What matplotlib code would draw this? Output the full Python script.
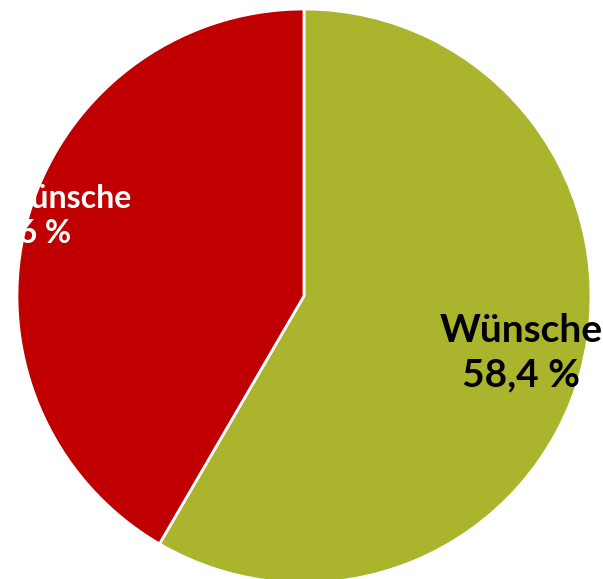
import matplotlib.pyplot as plt
from matplotlib.transforms import Bbox, TransformedBbox

label_names = ['Wünsche', 'Keine Wünsche']
label_values = ['58,4 %', '41,6 %']
shares = [58.4, 41.6]
colors = ['#aab42d', '#c00000']
explode = [0.0, 0.02]

plt.rcParams['font.family'] = ['Lato', 'DejaVu Sans']

fig = plt.figure(figsize=(6.03, 5.79), dpi=100, facecolor='white')
ax = fig.add_axes([0, 0, 1, 1])

ax.pie(shares, colors=colors, explode=explode, startangle=90,
       counterclock=False, center=(304, 283), radius=287,
       wedgeprops=dict(edgecolor='white', linewidth=2),
       frame=True)
ax.set_xlim(0, 603)
ax.set_ylim(0, 579)
ax.set_aspect('equal')
ax.axis('off')

# green slice label (centred)
ax.text(521, 249, label_names[0], ha='center', va='center', fontsize=28,
        fontweight='bold', color='black')
ax.text(521, 204, label_values[0], ha='center', va='center', fontsize=28,
        fontweight='bold', color='black')

# red slice label, cut off at the left like the original
t1 = ax.text(131, 381, label_names[1], ha='right', va='center', fontsize=23,
             fontweight='bold', color='white')
t1.set_clip_box(TransformedBbox(Bbox([[27, 0], [603, 579]]), ax.transData))
t1.set_clip_on(True)
t2 = ax.text(71, 346, label_values[1], ha='right', va='center', fontsize=23,
             fontweight='bold', color='white')
t2.set_clip_box(TransformedBbox(Bbox([[20, 0], [603, 579]]), ax.transData))
t2.set_clip_on(True)

fig.savefig('out.png', dpi=100, facecolor='white')
plt.close(fig)
